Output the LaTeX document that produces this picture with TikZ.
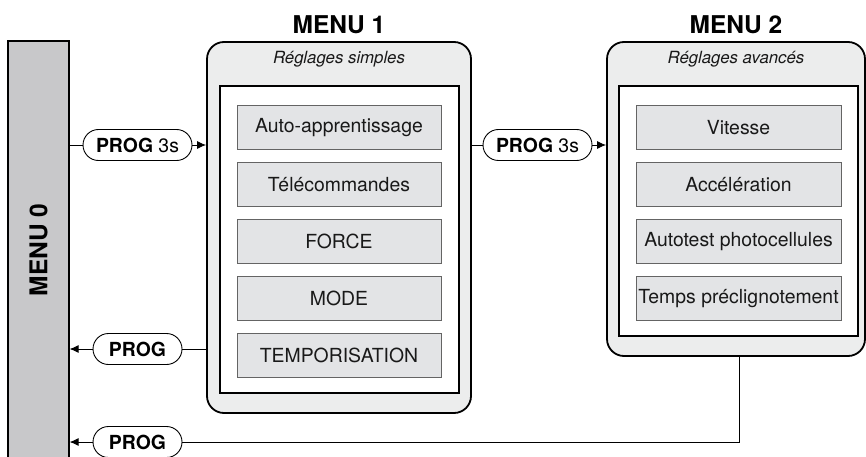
\documentclass[tikz,border=0pt]{standalone}
\usepackage{fontspec}
\setmainfont{TeX Gyre Heros}
\usepackage{tikz}
\usetikzlibrary{arrows.meta, positioning, calc}
\definecolor{bargray}{RGB}{200,200,202}
\definecolor{panelgray}{RGB}{236,237,237}
\definecolor{itemgray}{RGB}{227,228,230}
\definecolor{itemedge}{RGB}{100,100,100}
\definecolor{inktext}{RGB}{25,25,25}

\begin{document}
\begin{tikzpicture}[
    x=1pt, y=-1pt,
    node distance=12pt,
    bar/.style={draw=black, line width=1.2pt, fill=bargray,
                minimum width=61pt, minimum height=430pt, inner sep=0pt},
    panel/.style={draw=black, line width=1.8pt, fill=panelgray,
                  rounded corners=17pt, inner sep=0pt},
    inner/.style={draw=black, line width=1.1pt, fill=white, inner sep=0pt},
    item/.style={draw=itemedge, line width=0.9pt, fill=itemgray,
                 minimum height=44pt, inner sep=0pt, text=inktext,
                 font=\fontsize{19.4}{21}\selectfont},
    title/.style={font=\fontsize{24.5}{26}\selectfont\bfseries},
    subtitle/.style={font=\fontsize{16.8}{18}\selectfont\itshape, text=inktext},
    pill/.style={draw=black, line width=0.9pt, fill=white, rounded corners=15.5pt,
                 minimum height=31pt, inner sep=0pt,
                 font=\fontsize{19.4}{21}\selectfont},
    arrow/.style={-{Latex[length=9pt,width=8pt]}, line width=0.9pt},
    link/.style={line width=0.9pt},
]
\clip (0,0) rectangle (866,457);

% ── Menu 0 : the left bar ────────────────────────────────────────────
\node[bar] (menu0) at (38.5,256) {};
\node[title, rotate=90] (menu0t) at (38.5,250) {MENU 0};

% ── Menu 1 : simple settings ─────────────────────────────────────────
\node[panel, minimum width=264pt, minimum height=371pt] (menu1) at (339,227.5) {};
\node[title, above=4pt of menu1] (menu1t) {MENU 1};
\node[subtitle, below=18pt of menu1.north, anchor=center] (menu1s) {Réglages simples};
\node[inner, minimum width=239pt, minimum height=307pt] (box1) at (339.5,239.5) {};

\node[item, minimum width=204pt] (autoapp) at (339,127.5) {Auto-apprentissage};
\node[item, minimum width=204pt, below=of autoapp] (telecom) {Télécommandes};
\node[item, minimum width=204pt, below=of telecom]  (force)   {FORCE};
\node[item, minimum width=204pt, below=of force]    (mode)    {MODE};
\node[item, minimum width=204pt, below=of mode]     (tempo)   {TEMPORISATION};

% ── Menu 2 : advanced settings ───────────────────────────────────────
\node[panel, minimum width=258pt, minimum height=314pt] (menu2) at (736,199) {};
\node[title, above=4pt of menu2] (menu2t) {MENU 2};
\node[subtitle, below=18pt of menu2.north, anchor=center] (menu2s) {Réglages avancés};
\node[inner, minimum width=239pt, minimum height=250pt] (box2) at (738.5,211) {};

\node[item, minimum width=205pt] (vitesse) at (738.5,127.5) {Vitesse};
\node[item, minimum width=205pt, below=of vitesse] (accel)   {Accélération};
\node[item, minimum width=205pt, below=of accel]   (autotest) {Autotest photocellules};
\node[item, minimum width=205pt, below=of autotest] (precli) {Temps préclignotement};

% ── PROG buttons ─────────────────────────────────────────────────────
\node[pill, minimum width=109pt] (prog01) at (137.5,145) {\textbf{PROG} 3s};
\node[pill, minimum width=109pt] (prog12) at (537.5,145) {\textbf{PROG} 3s};
\node[pill, minimum width=89pt]  (prog10) at (137.5,349) {\textbf{PROG}};
\node[pill, minimum width=89pt]  (prog20) at (137.5,442) {\textbf{PROG}};

% ── Arrows ───────────────────────────────────────────────────────────
\draw[link]  (menu0.east |- prog01) -- (prog01.west);
\draw[arrow] (prog01.east) -- (menu1.west |- prog01);
\draw[link]  (menu1.east |- prog12) -- (prog12.west);
\draw[arrow] (prog12.east) -- (menu2.west |- prog12);
\draw[link]  (menu1.west |- prog10) -- (prog10.east);
\draw[arrow] (prog10.west) -- (menu0.east |- prog10);
\draw[link]  ($(menu2.south)+(3,0)$) |- (prog20.east);
\draw[arrow] (prog20.west) -- (menu0.east |- prog20);

\end{tikzpicture}
\end{document}
